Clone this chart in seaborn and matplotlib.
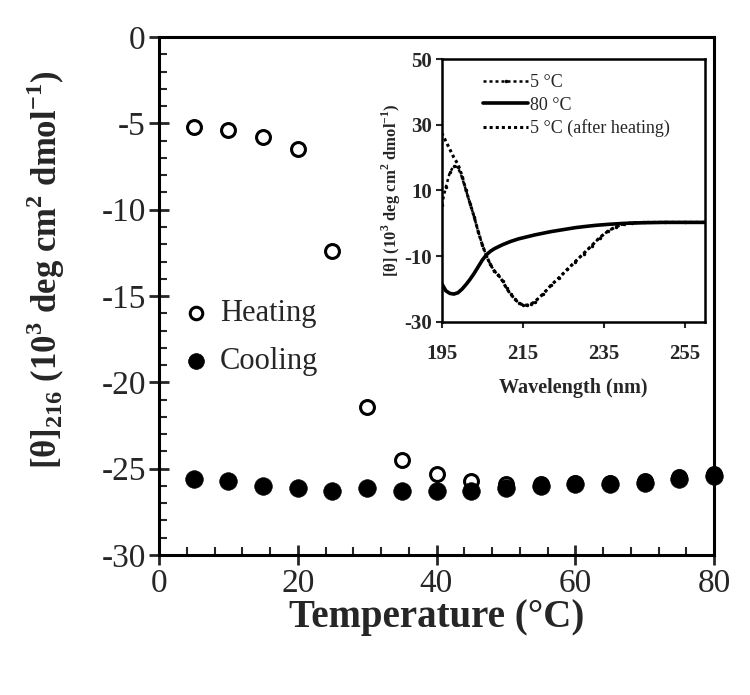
import numpy as np
import pandas as pd
import seaborn as sns
import matplotlib.pyplot as plt
from matplotlib.ticker import MultipleLocator

# Main panel: [theta]216 vs temperature
temps = [5, 10, 15, 20, 25, 30, 35, 40, 45, 50, 55, 60, 65, 70, 75, 80]
heating = [-5.2, -5.4, -5.8, -6.5, -12.4, -21.4, -24.5, -25.3, -25.7,
           -25.9, -25.9, -25.8, -25.8, -25.7, -25.5, -25.3]
cooling = [-25.6, -25.7, -26.0, -26.1, -26.3, -26.1, -26.3, -26.3, -26.3,
           -26.1, -26.0, -25.9, -25.9, -25.8, -25.6, -25.4]

# Inset: CD spectra
wl_5c = [195, 196, 197, 198, 199, 200, 201, 202, 203, 204, 205, 206, 207, 208,
         209, 210, 211, 212, 213, 214, 215, 216, 217, 218, 220, 222, 224, 226,
         228, 230, 232, 234, 236, 238, 240, 242, 245, 250, 255, 260]
cd_5c = [5.5, 11.0, 15.5, 17.5, 17.0, 14.0, 10.0, 6.0, 2.0, -2.5, -6.5, -9.8,
         -12.5, -14.5, -15.8, -17.5, -19.8, -21.5, -23.0, -24.2, -24.8, -24.9,
         -24.6, -23.8, -21.5, -18.8, -16.5, -14.0, -11.6, -9.2, -6.8, -4.3,
         -2.4, -1.0, -0.2, 0.2, 0.3, 0.3, 0.3, 0.3]
cd_after = [27.5, 25.0, 22.5, 20.0, 18.0, 14.5, 10.0, 6.0, 2.0, -2.5, -6.5, -9.8,
            -12.5, -14.5, -15.8, -17.5, -19.8, -21.5, -23.0, -24.2, -24.8, -24.9,
            -24.6, -23.8, -21.5, -18.8, -16.5, -14.0, -11.6, -9.2, -6.8, -4.3,
            -2.4, -1.0, -0.2, 0.2, 0.3, 0.3, 0.3, 0.3]
wl_80c = [195, 196, 197, 198, 199, 200, 201, 202, 203, 204, 205, 206, 207, 208,
          209, 210, 212, 214, 216, 218, 220, 222, 224, 226, 228, 230, 233, 236,
          240, 245, 250, 255, 260]
cd_80c = [-18.3, -20.5, -21.3, -21.5, -21.1, -20.0, -18.6, -17.0, -15.2, -13.2,
          -11.2, -9.6, -8.5, -7.7, -7.1, -6.5, -5.5, -4.7, -4.1, -3.5, -3.0,
          -2.5, -2.1, -1.7, -1.3, -1.0, -0.6, -0.3, 0.0, 0.2, 0.3, 0.3, 0.3]

sns.set_style("ticks")
plt.rcParams['font.family'] = ['Liberation Serif', 'DejaVu Serif']
plt.rcParams['mathtext.fontset'] = 'custom'
plt.rcParams['mathtext.rm'] = 'Liberation Serif'
plt.rcParams['mathtext.bf'] = 'Liberation Serif:bold'
plt.rcParams['axes.unicode_minus'] = False

fig = plt.figure(figsize=(7.5, 6.95), dpi=100)
ax = fig.add_axes([0.212, 0.2014, 0.740, 0.7453])

main_df = pd.DataFrame({"temp": temps, "heating": heating, "cooling": cooling})
sns.scatterplot(data=main_df, x="temp", y="heating", ax=ax, marker="o",
                s=100, facecolor="white", edgecolor="black", linewidth=2.2,
                label="Heating", clip_on=False, zorder=3)
sns.scatterplot(data=main_df, x="temp", y="cooling", ax=ax, marker="o",
                s=160, color="black", edgecolor="black", linewidth=0.5,
                label="Cooling", clip_on=False, zorder=4)

ax.set_xlim(0, 80)
ax.set_ylim(-30, 0)
ax.xaxis.set_major_locator(MultipleLocator(20))
ax.xaxis.set_minor_locator(MultipleLocator(4))
ax.yaxis.set_major_locator(MultipleLocator(5))
ax.yaxis.set_minor_locator(MultipleLocator(1))
ax.tick_params(which="major", direction="inout", length=15, width=2,
               labelsize=24, pad=2)
ax.tick_params(which="minor", direction="in", length=6, width=1.5)
for sp in ax.spines.values():
    sp.set_linewidth(2.2)
    sp.set_color("black")

ax.set_xlabel("Temperature (°C)", fontsize=28, fontweight="bold")
ax.xaxis.set_label_coords(0.5, -0.085)
ax.set_ylabel(r"[θ]$_{\mathbf{216}}$ (10$^{\mathbf{3}}$ deg cm$^{\mathbf{2}}$ dmol$^{\mathbf{-1}}$)",
              fontsize=25, fontweight="bold")
ax.yaxis.set_label_coords(-0.165, 0.55)

ax.legend(loc="center left", bbox_to_anchor=(0.0, 0.42), frameon=False,
          fontsize=22, handletextpad=0.0, labelspacing=0.6, markerscale=0.9,
          handlelength=1.6, borderaxespad=0)

# Inset
ins = fig.add_axes([0.589, 0.5367, 0.351, 0.3784])
sns.lineplot(x=wl_5c, y=cd_5c, ax=ins, color="black", lw=1.8,
             linestyle=(0, (1.2, 1.2)), marker="o", markersize=2.5,
             markeredgewidth=0, label="5 °C")
sns.lineplot(x=wl_80c, y=cd_80c, ax=ins, color="black", lw=2.6,
             label="80 °C")
sns.lineplot(x=wl_5c, y=cd_after, ax=ins, color="black", lw=2.2,
             linestyle=(0, (1, 1)), label="5 °C (after heating)")

ins.set_xlim(195, 260)
ins.set_ylim(-30, 50)
ins.set_xticks([195, 215, 235, 255])
ins.set_yticks([-30, -10, 10, 30, 50])
ins.tick_params(direction="out", length=4, width=1.5, labelsize=15, pad=3)
ins.tick_params(axis="x", pad=12)
for lab in ins.get_xticklabels() + ins.get_yticklabels():
    lab.set_fontweight("bold")
for sp in ins.spines.values():
    sp.set_linewidth(1.8)
    sp.set_color("black")
ins.set_xlabel("Wavelength (nm)", fontsize=14.5, fontweight="bold", labelpad=10)
ins.set_ylabel(r"[θ] (10$^{\mathbf{3}}$ deg cm$^{\mathbf{2}}$ dmol$^{\mathbf{-1}}$)",
               fontsize=12, fontweight="bold", labelpad=1)
ins.legend(loc="upper left", bbox_to_anchor=(0.13, 0.97), frameon=False,
           fontsize=13, handlelength=2.5, handletextpad=0.1, labelspacing=0.3,
           borderaxespad=0)

plt.savefig("out.png", dpi=100)
